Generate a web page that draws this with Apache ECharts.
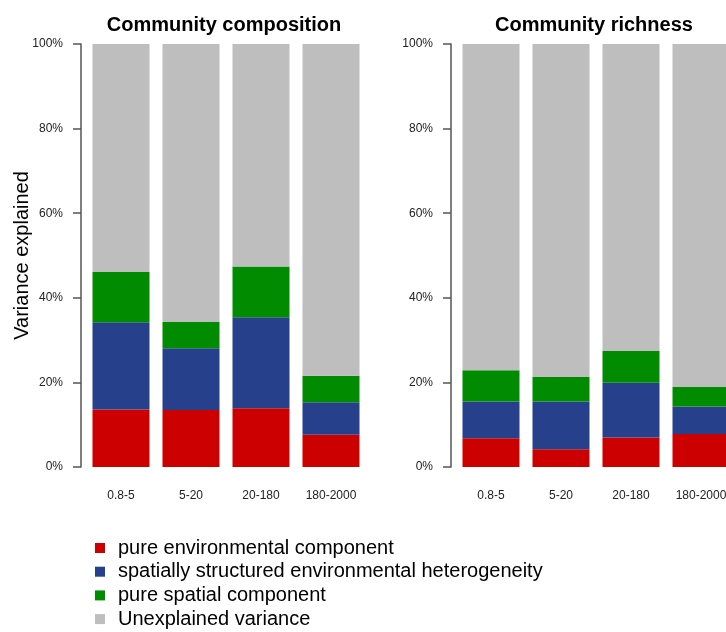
<!DOCTYPE html>
<html>
<head>
<meta charset="utf-8">
<script src="https://cdn.jsdelivr.net/npm/echarts@6/dist/echarts.min.js"></script>
<style>
  html, body { margin: 0; padding: 0; background: #fff; }
  #main { width: 726px; height: 632px; }
</style>
</head>
<body>
<div id="main"></div>
<script>
// size fractions (µm)
var categories = ['0.8-5', '5-20', '20-180', '180-2000'];
var yTicks = [0, 20, 40, 60, 80, 100];

// Community composition (% variance)
var compEnv = [13.6, 13.5, 13.9, 7.6];
var compShared = [20.6, 14.6, 21.5, 7.7];
var compSpatial = [11.9, 6.2, 12.0, 6.3];

// Community richness (% variance)
var richEnv = [6.8, 4.2, 7.0, 7.8];
var richShared = [8.7, 11.3, 12.9, 6.5];
var richSpatial = [7.4, 5.8, 7.5, 4.6];

var names = ['pure environmental component', 'spatially structured environmental heterogeneity',
  'pure spatial component', 'Unexplained variance'];
var colors = ['#CD0000', '#27408B', '#008B00', '#BEBEBE'];

function rest(a, b, c) {
  return a.map(function (v, i) { return +(100 - v - b[i] - c[i]).toFixed(1); });
}
var compUnexpl = rest(compEnv, compShared, compSpatial);
var richUnexpl = rest(richEnv, richShared, richSpatial);

var myChart = echarts.init(document.getElementById('main'));

function yAxis(idx, withName) {
  return {
    type: 'value', gridIndex: idx, min: 0, max: 100, interval: 20,
    offset: 5,
    name: withName ? 'Variance explained' : '',
    nameLocation: 'middle', nameRotate: 90, nameGap: 49,
    nameMoveOverlap: false,
    nameTextStyle: { fontSize: 20, color: '#000', fontFamily: 'Liberation Sans' },
    axisLine: { show: true, lineStyle: { color: '#555', width: 1.5 } },
    axisTick: { show: true, length: 8, lineStyle: { color: '#555', width: 1.5 } },
    axisLabel: {
      formatter: '{value}%', fontSize: 12, color: '#222', margin: 18,
      fontFamily: 'Liberation Sans'
    },
    splitLine: { show: false }
  };
}

function xAxis(idx) {
  return {
    type: 'category', gridIndex: idx, data: categories,
    axisLine: { show: false }, axisTick: { show: false },
    axisLabel: { fontSize: 12, color: '#222', margin: 23, fontFamily: 'Liberation Sans' }
  };
}

function bars(idx, stack, data) {
  return data.map(function (d, i) {
    return {
      name: names[i], type: 'bar', stack: stack,
      xAxisIndex: idx, yAxisIndex: idx,
      data: d, barWidth: 57,
      itemStyle: { color: colors[i] },
      emphasis: { disabled: true }
    };
  });
}

var option = {
  animation: false,
  textStyle: { fontFamily: 'Liberation Sans' },
  title: [
    { text: 'Community composition', left: 219, top: 10, textAlign: 'center',
      textStyle: { fontSize: 20, fontWeight: 'bold', color: '#000' } },
    { text: 'Community richness', left: 589, top: 10, textAlign: 'center',
      textStyle: { fontSize: 20, fontWeight: 'bold', color: '#000' } }
  ],
  grid: [
    { left: 86, top: 44, width: 280, height: 423, outerBoundsMode: 'none' },
    { left: 456, top: 44, width: 280, height: 423, outerBoundsMode: 'none' }
  ],
  xAxis: [xAxis(0), xAxis(1)],
  yAxis: [yAxis(0, true), yAxis(1, false)],
  legend: {
    orient: 'vertical', left: 90, top: 533, height: 120,
    itemWidth: 10, itemHeight: 10, itemGap: 3.7,
    icon: 'rect', data: names,
    textStyle: { fontSize: 20, color: '#000', padding: [0, 0, 0, 8] }
  },
  series: bars(0, 'comp', [compEnv, compShared, compSpatial, compUnexpl])
    .concat(bars(1, 'rich', [richEnv, richShared, richSpatial, richUnexpl]))
};

myChart.setOption(option);
</script>
</body>
</html>
